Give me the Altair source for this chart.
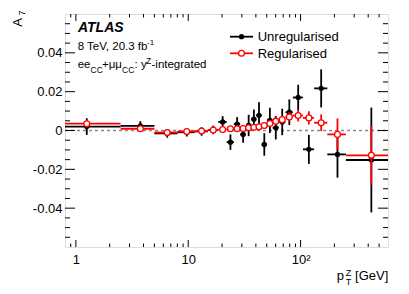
import altair as alt
import pandas as pd

# ---------------- data ----------------
bin_edges = [0, 2.5, 5.0, 8.0, 11.4, 14.9, 18.5, 22.0, 25.5, 29.0, 32.6, 36.4,
             40.4, 44.9, 50.2, 56.4, 63.9, 73.4, 85.4, 105.0, 132.0, 173.0, 253.0, 600.0]
unreg_values = [0.0020, 0.0024, -0.0015, -0.0009, -0.0005, 0.0003, 0.0044, -0.0060,
                0.0033, -0.0020, 0.0026, 0.0058, 0.0078, -0.0072, 0.0052, 0.0014,
                0.0044, 0.0094, 0.0170, -0.0097, 0.0217, -0.0123, -0.0152]
unreg_errors = [0.0043, 0.0024, 0.0022, 0.0022, 0.0022, 0.0022, 0.0030, 0.0040,
                0.0036, 0.0043, 0.0055, 0.0050, 0.0068, 0.0058, 0.0065, 0.0060,
                0.0068, 0.0066, 0.0066, 0.0075, 0.0098, 0.0120, 0.0270]
reg_values = [0.0035, 0.0009, -0.0010, -0.0005, -0.0003, 0.0002, 0.0005, 0.0009,
              0.0009, 0.0010, 0.0014, 0.0017, 0.0019, 0.0026, 0.0036, 0.0048,
              0.0056, 0.0070, 0.0077, 0.0065, 0.0040, -0.0020, -0.0128]
reg_errors = [0.0020, 0.0010, 0.0008, 0.0008, 0.0008, 0.0008, 0.0009, 0.0010,
              0.0010, 0.0011, 0.0012, 0.0013, 0.0014, 0.0015, 0.0016, 0.0018,
              0.0020, 0.0024, 0.0030, 0.0034, 0.0043, 0.0082, 0.0151]
series_names = ["Unregularised", "Regularised"]

x_domain = [0.8, 600]
y_domain = [-0.06, 0.06]
y_major = [-0.04, -0.02, 0.0, 0.02, 0.04]
y_minor = [-0.055, -0.05, -0.045, -0.035, -0.03, -0.025, -0.015, -0.01, -0.005,
           0.005, 0.01, 0.015, 0.025, 0.03, 0.035, 0.045, 0.05, 0.055]
x_major = [1, 10, 100]
x_minor = [0.9, 2, 3, 4, 5, 6, 7, 8, 9, 20, 30, 40, 50, 60, 70, 80, 90,
           200, 300, 400, 500]

W, H = 323, 233
FONT = "Liberation Sans"
RED = "#ff0000"


def make_df(values, errors):
    lo = bin_edges[:-1]
    hi = bin_edges[1:]
    return pd.DataFrame({
        "lo": [max(a, x_domain[0]) for a in lo],
        "hi": hi,
        "xc": [(a + b) / 2 for a, b in zip(lo, hi)],
        "y": values,
        "ylo": [v - e for v, e in zip(values, errors)],
        "yhi": [v + e for v, e in zip(values, errors)],
    })


df_u = make_df(unreg_values, unreg_errors)
df_r = make_df(reg_values, reg_errors)

xs = alt.Scale(type="log", domain=x_domain)
ys = alt.Scale(domain=y_domain)
x_axis = alt.Axis(title=None, values=x_major, ticks=False, domain=False, grid=False,
                  labelFont=FONT, labelFontSize=13, labelColor="black", labelPadding=6,
                  labelExpr="datum.value == 100 ? '10²' : '' + datum.value")
y_axis = alt.Axis(title=None, values=y_major, ticks=False, domain=False, grid=False,
                  labelFont=FONT, labelFontSize=13, labelColor="black", labelPadding=3,
                  labelExpr="'' + datum.value")


def X(f):
    return alt.X(f, type="quantitative", scale=xs, axis=x_axis)


def Y(f):
    return alt.Y(f, type="quantitative", scale=ys, axis=y_axis)


# zero line
zero = alt.Chart(pd.DataFrame({"v": [0.0]})).mark_rule(
    color="#888888", strokeDash=[3, 3], strokeWidth=1.5
).encode(y=Y("v"), x=alt.value(0), x2=alt.value(W))

# ticks (inward)
ymaj = pd.DataFrame({"v": y_major})
ymin = pd.DataFrame({"v": y_minor})
xmaj = pd.DataFrame({"v": x_major})
xmin = pd.DataFrame({"v": x_minor})
tk = dict(color="black", strokeWidth=1)
ticks = [
    alt.Chart(ymaj).mark_rule(**tk).encode(y=Y("v"), x=alt.value(0), x2=alt.value(10)),
    alt.Chart(ymin).mark_rule(**tk).encode(y=Y("v"), x=alt.value(0), x2=alt.value(5)),
    alt.Chart(ymaj).mark_rule(**tk).encode(y=Y("v"), x=alt.value(W), x2=alt.value(W - 10)),
    alt.Chart(ymin).mark_rule(**tk).encode(y=Y("v"), x=alt.value(W), x2=alt.value(W - 5)),
    alt.Chart(xmaj).mark_rule(**tk).encode(x=X("v"), y=alt.value(H), y2=alt.value(H - 7)),
    alt.Chart(xmin).mark_rule(**tk).encode(x=X("v"), y=alt.value(H), y2=alt.value(H - 3.5)),
    alt.Chart(xmaj).mark_rule(**tk).encode(x=X("v"), y=alt.value(0), y2=alt.value(7)),
    alt.Chart(xmin).mark_rule(**tk).encode(x=X("v"), y=alt.value(0), y2=alt.value(3.5)),
]


def series(df, color, filled):
    base = alt.Chart(df)
    h = base.mark_rule(color=color, strokeWidth=1.8).encode(x=X("lo"), x2="hi", y=Y("y"))
    v = base.mark_rule(color=color, strokeWidth=1.8).encode(x=X("xc"), y=Y("ylo"), y2="yhi")
    if filled:
        p = base.mark_point(shape="circle", filled=True, color=color, size=28, opacity=1).encode(
            x=X("xc"), y=Y("y"))
    else:
        p = base.mark_point(shape="circle", filled=False, fill="white", fillOpacity=1,
                            stroke=color, strokeWidth=1.3, size=34, opacity=1).encode(
            x=X("xc"), y=Y("y"))
    return [h, v, p]


one = pd.DataFrame({"a": [0]})


def txt(s, x, y, size=11.5, **kw):
    return alt.Chart(one).mark_text(text=s, font=FONT, fontSize=size, color="black",
                                    align=kw.pop("align", "left"),
                                    baseline=kw.pop("baseline", "alphabetic"), **kw).encode(
        x=alt.value(x), y=alt.value(y))


annotations = [
    txt("ATLAS", 13, 18.3, size=14, fontWeight="bold", fontStyle="italic"),
    txt("8 TeV, 20.3 fb", 12.7, 36, size=11.5),
    txt("-1", 82, 30.5, size=8),
    txt("ee", 12.7, 54.3, size=11.5),
    txt("CC", 25.5, 58.5, size=8.5),
    txt("+μμ", 37, 54.3, size=11.5),
    txt("CC", 57, 58.5, size=8.5),
    txt(": y", 69.5, 54.3, size=11.5),
    txt("Z", 81, 49.5, size=8.5),
    txt("-integrated", 86.5, 54.3, size=11.5),
    # axis titles
    txt("A", -43.3, 12.7, size=13, angle=270),
    txt("7", -40.5, 1.5, size=9, angle=270),
    txt("p", 271.7, 266, size=13),
    txt("Z", 280.7, 262.2, size=9),
    txt("T", 280.7, 271.3, size=9),
    txt("[GeV]", 323.3, 266, size=13, align="right"),
]

# legend
leg_df = pd.DataFrame({"name": series_names})
legend = []
for i, (name, color, filled) in enumerate(zip(series_names, ["black", RED], [True, False])):
    yy = 22.7 + 16.6 * i
    legend.append(alt.Chart(one).mark_rule(color=color, strokeWidth=1.8).encode(
        x=alt.value(165), x2=alt.value(188), y=alt.value(yy)))
    if filled:
        legend.append(alt.Chart(one).mark_point(shape="circle", filled=True, color=color,
                                                size=28, opacity=1).encode(
            x=alt.value(176.5), y=alt.value(yy)))
    else:
        legend.append(alt.Chart(one).mark_point(shape="circle", filled=False, fill="white",
                                                fillOpacity=1, stroke=color, strokeWidth=1.3,
                                                size=34, opacity=1).encode(
            x=alt.value(176.5), y=alt.value(yy)))
    legend.append(alt.Chart(leg_df.iloc[[i]]).mark_text(
        font=FONT, fontSize=13, color="black", align="left", baseline="alphabetic").encode(
        text="name:N", x=alt.value(192.7), y=alt.value(yy + 4.6)))

layers = [zero] + ticks + series(df_u, "black", True) + series(df_r, RED, False) \
    + annotations + legend

chart = alt.layer(*layers).properties(
    width=W, height=H,
    autosize=alt.AutoSizeParams(type="none"),
    padding={"left": 57, "top": 6, "right": 13, "bottom": 39},
).configure_view(stroke="black", strokeWidth=1.2).configure(background="white")

chart.save("out.html", embed_options={"renderer": "svg", "actions": False})
